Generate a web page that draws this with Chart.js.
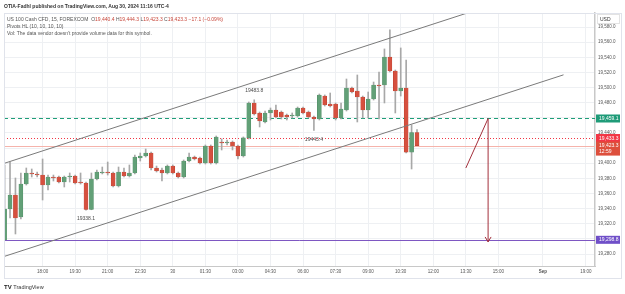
<!DOCTYPE html>
<html><head><meta charset="utf-8">
<script src="https://cdn.jsdelivr.net/npm/chart.js@4.4.1/dist/chart.umd.min.js"></script>
<style>
html,body{margin:0;padding:0;background:#fff;}
#wrap{position:relative;width:625px;height:294px;overflow:hidden;font-family:"Liberation Sans",Arial,sans-serif;}
canvas{position:absolute;left:0;top:0;}
.t{position:absolute;white-space:nowrap;font-size:5px;line-height:6px;color:#555;}
.r{color:#c8473b;}
</style></head><body>
<div id="wrap">
<canvas id="c" width="625" height="294"></canvas>
<div class="t" style="left:4px;top:3px;color:#333;font-weight:bold;">OTIA-Fadhl published on TradingView.com, Aug 30, 2024 11:16 UTC-4</div>
<div class="t" style="left:7px;top:16px;">US 100 Cash CFD, 15, FOREXCOM&nbsp; O<span class="r">19,440.4</span> H<span class="r">19,444.3</span> L<span class="r">19,423.3</span> C<span class="r">19,423.3</span> <span class="r">−17.1 (−0.09%)</span></div>
<div class="t" style="left:7px;top:23px;">Pivots HL (10, 10, 10, 10)</div>
<div class="t" style="left:7px;top:30px;">Vol: The data vendor doesn't provide volume data for this symbol.</div>
<div class="t" style="left:4px;top:284px;color:#222;font-size:6px;"><b>TV</b> <span style="font-size:5.5px;color:#333">TradingView</span></div>
</div>
<script>
// ---- data ----
const opens  = [19298.8,19339.5,19358.0,19328.9,19372.5,19387.1,19385.8,19384.4,19371.2,19381.8,19381.8,19375.2,19381.8,19383.1,19375.2,19373.9,19339.0,19379.1,19387.1,19388.4,19387.1,19369.9,19388.4,19383.1,19387.1,19406.9,19409.5,19413.5,19393.7,19391.0,19387.1,19396.3,19387.1,19381.8,19402.9,19408.2,19406.9,19400.3,19422.8,19400.3,19428.1,19426.7,19428.1,19422.8,19409.5,19433.4,19479.6,19466.4,19454.5,19466.4,19470.3,19467.7,19463.7,19462.4,19462.4,19473.0,19467.7,19461.1,19458.4,19488.8,19478.3,19478.3,19459.8,19470.3,19499.4,19495.4,19487.5,19470.3,19484.9,19503.4,19503.4,19540.4,19521.9,19495.4,19499.4,19414.5,19440.4];
const highs  = [19397.7,19401.6,19380.5,19387.1,19393.7,19392.4,19388.4,19405.6,19384.4,19384.4,19383.1,19383.1,19387.1,19384.4,19387.1,19375.2,19387.1,19391.0,19395.0,19401.6,19388.4,19395.0,19393.7,19397.7,19410.9,19413.5,19418.8,19414.8,19396.3,19393.7,19397.7,19397.7,19388.4,19404.3,19413.5,19409.5,19408.2,19424.1,19424.1,19436.0,19432.1,19430.7,19429.4,19424.1,19434.7,19480.9,19483.8,19467.7,19469.0,19473.0,19476.9,19469.0,19465.0,19466.4,19474.3,19474.3,19469.0,19462.4,19491.5,19490.2,19492.8,19479.6,19479.6,19511.3,19500.7,19516.6,19488.8,19494.1,19507.3,19520.6,19551.0,19576.1,19523.2,19552.3,19536.4,19450.5,19444.3];
const lows   = [19298.8,19327.6,19306.5,19326.3,19371.2,19381.8,19381.8,19351.4,19364.6,19376.5,19373.9,19368.6,19375.2,19372.5,19372.5,19338.1,19338.5,19377.8,19385.8,19384.4,19368.6,19368.6,19381.8,19381.8,19385.8,19402.9,19408.2,19391.0,19388.4,19376.5,19385.8,19385.8,19380.5,19380.5,19401.6,19404.3,19399.0,19399.0,19399.0,19399.0,19417.5,19424.1,19417.5,19405.6,19408.2,19432.1,19463.7,19447.9,19453.2,19457.1,19459.8,19458.4,19457.1,19459.8,19461.1,19465.0,19459.8,19443.4,19457.1,19475.6,19474.3,19457.1,19458.4,19469.0,19492.8,19454.5,19459.8,19459.8,19483.5,19458.4,19479.6,19520.6,19466.4,19488.8,19413.5,19392.4,19423.3];
const closes = [19339.5,19358.0,19327.6,19372.5,19387.1,19385.8,19384.4,19371.2,19381.8,19380.5,19375.2,19381.8,19383.1,19373.9,19373.9,19339.0,19379.1,19388.4,19388.4,19387.1,19369.9,19388.4,19383.1,19387.1,19408.2,19409.5,19413.5,19393.7,19389.7,19387.1,19396.3,19387.1,19381.8,19402.9,19408.2,19405.6,19400.3,19422.8,19400.3,19434.7,19426.7,19428.1,19422.8,19409.5,19433.4,19479.6,19465.0,19455.8,19466.4,19470.3,19461.1,19461.1,19461.1,19463.7,19473.0,19466.4,19461.1,19458.4,19490.2,19476.9,19475.6,19459.8,19471.6,19499.4,19494.1,19487.5,19470.3,19484.9,19503.4,19502.0,19540.4,19521.9,19495.4,19499.4,19414.5,19440.4,19423.3];

const timeTickIdx    = [7,13,19,25,31,37,43,49,55,61,67,73,79,85,91,99.2,107.1];
const timeTickLabels = ['18:00','19:30','21:00','22:30','30','01:30','03:00','04:30','06:00','07:30','09:00','10:30','12:00','13:30','15:00','Sep','19:00'];
const priceTicks = [19280,19300,19320,19340,19360,19380,19400,19420,19440,19460,19480,19500,19520,19540,19560,19580];
const hiddenPriceTicks = [19300,19420,19460];

const levelPrices = [19459.1,19433.3,19423.3,19298.8];
const levelLabels = ['19,459.1','19,433.3','19,423.3','19,298.8'];
const countdownText = '12:59';

const pivotIdx   = [15,46,57];
const pivotPrice = [19338.1,19483.8,19443.4];
const pivotText  = ['19338.1','19483.8','19443.4'];
const pivotAbove = [false,true,false];

const channelUpper = [[0,19400.0],[103,19639.8]];
const channelLower = [[0,19277.0],[103,19516.8]];
const arrowPts = [[85,19393.7],[89.1,19459.1],[89.1,19296.0]];

// ---- chart ----
const FONT = '"Liberation Sans", Arial, sans-serif';
const UP = '#62a077', DOWN = '#d6503f';
const UPB = '#4f8a64', DOWNB = '#b9412f';
const fmt = v => v.toLocaleString('en-US',{minimumFractionDigits:1,maximumFractionDigits:1});

const overlay = {
  id:'overlay',
  beforeDatasetsDraw(chart){
    const {ctx, chartArea:a, scales:{x,y}} = chart;
    ctx.save();
    ctx.beginPath(); ctx.rect(a.left,a.top,a.right-a.left,a.bottom-a.top); ctx.clip();
    const styles = [
      {c:'#1f9e78', d:[4,3]},
      {c:'#f23645', d:[1,2]},
      {c:'#f5b3ab', d:[]},
      {c:'#7e57c2', d:[]}
    ];
    levelPrices.forEach((p,k)=>{
      const py = Math.round(y.getPixelForValue(p))+0.5;
      ctx.strokeStyle = styles[k].c; ctx.setLineDash(styles[k].d); ctx.lineWidth=1;
      ctx.beginPath();
      ctx.moveTo(k===3 ? x.getPixelForValue(0) : a.left, py); ctx.lineTo(a.right, py); ctx.stroke();
    });
    ctx.restore();
  },
  afterDatasetsDraw(chart){
    const {ctx, chartArea:a, scales:{x,y}} = chart;
    const P = pt => [x.getPixelForValue(pt[0]), y.getPixelForValue(pt[1])];
    ctx.save();
    ctx.beginPath(); ctx.rect(a.left,a.top,a.right-a.left,a.bottom-a.top); ctx.clip();
    ctx.setLineDash([]);
    ctx.strokeStyle='#7a7a7a'; ctx.lineWidth=1;
    [channelUpper, channelLower].forEach(l=>{
      const p0=P(l[0]), p1=P(l[1]);
      ctx.beginPath(); ctx.moveTo(p0[0],p0[1]); ctx.lineTo(p1[0],p1[1]); ctx.stroke();
    });
    // arrow
    ctx.strokeStyle='#a3303c'; ctx.lineWidth=1;
    const q = arrowPts.map(P);
    ctx.beginPath(); ctx.moveTo(q[0][0],q[0][1]); ctx.lineTo(q[1][0],q[1][1]); ctx.lineTo(q[2][0],q[2][1]); ctx.stroke();
    ctx.beginPath(); ctx.moveTo(q[2][0]-3,q[2][1]-5); ctx.lineTo(q[2][0],q[2][1]); ctx.lineTo(q[2][0]+3,q[2][1]-5); ctx.stroke();
    // pivot labels
    ctx.fillStyle='#4a4a4a'; ctx.font='5px '+FONT; ctx.textAlign='center'; ctx.textBaseline='middle';
    pivotIdx.forEach((i,k)=>{
      const px=x.getPixelForValue(i), py=y.getPixelForValue(pivotPrice[k]);
      ctx.fillText(pivotText[k], px, py + (pivotAbove[k] ? -9 : 9));
    });
    ctx.restore();

    // price axis boxes
    ctx.save();
    ctx.font='5px '+FONT; ctx.textAlign='left'; ctx.textBaseline='middle';
    const boxCol = ['#1f9b78','#f23645','#dd4f3c','#6f4fc8'];
    levelPrices.forEach((p,k)=>{
      const py = y.getPixelForValue(p);
      const h = k===2 ? 14 : 8;
      ctx.fillStyle = boxCol[k];
      ctx.fillRect(596, py-4, 24, h);
      ctx.fillStyle='#fff';
      ctx.fillText(levelLabels[k], 599, py+0.3);
      if(k===2) ctx.fillText(countdownText, 599, py+6);
    });
    // USD box
    ctx.fillStyle='#fff'; ctx.fillRect(597,14,23,10);
    ctx.strokeStyle='#e3e3e3'; ctx.lineWidth=1; ctx.strokeRect(597.5,14.5,22,9);
    ctx.fillStyle='#333'; ctx.fillText('USD', 600, 19.5);
    // frame
    ctx.strokeStyle='#e0e3eb'; ctx.strokeRect(4.5,13.5,617,265);
    ctx.restore();
  }
};

const idx = opens.map((_,i)=>i);
new Chart(document.getElementById('c'), {
  type:'bar',
  data:{
    datasets:[
      { label:'wick', grouped:false, barThickness:1, order:2,
        data: idx.map(i=>({x:i, y:[lows[i], highs[i]]})),
        backgroundColor:'#a8a8a8' },
      { label:'body', grouped:false, barThickness:4, order:1, borderWidth:0.5, borderSkipped:false,
        data: idx.map(i=>({x:i, y:[opens[i], closes[i]]})),
        backgroundColor: idx.map(i=> closes[i] >= opens[i] ? UP : DOWN),
        borderColor: idx.map(i=> closes[i] >= opens[i] ? UPB : DOWNB) }
    ]
  },
  options:{
    responsive:false, animation:false, devicePixelRatio:1,
    layout:{padding:{left:4, top:13, right:4, bottom:16}},
    plugins:{legend:{display:false}, tooltip:{enabled:false}},
    scales:{
      x:{ type:'linear', min:-0.11, max:108.8, offset:false,
        grid:{offset:false, color:'#eef0f3', drawTicks:false},
        border:{display:true, color:'#c8c8c8', width:1},
        ticks:{ autoSkip:false, maxRotation:0, padding:3, color:'#555',
          font: c => ({size:4.5, family:FONT, weight: (c.tick && c.tick.value===99.2) ? 'bold':'normal'}),
          callback:(v,i)=>timeTickLabels[i] },
        afterBuildTicks: s => { s.ticks = timeTickIdx.map(v=>({value:v})); },
        afterFit: s => { s.height = 12; } },
      y:{ type:'linear', position:'right', min:19264.2, max:19598.5,
        grid:{color:'#eef0f3', drawTicks:false},
        border:{display:true, color:'#c8c8c8', width:1.5},
        ticks:{ padding:3, color:'#555', font:{size:4.5, family:FONT},
          callback: v => hiddenPriceTicks.includes(v) ? '' : fmt(v) },
        afterBuildTicks: s => { s.ticks = priceTicks.map(v=>({value:v})); },
        afterFit: s => { s.width = 26; } }
    }
  },
  plugins:[overlay]
});
</script>
</body></html>
